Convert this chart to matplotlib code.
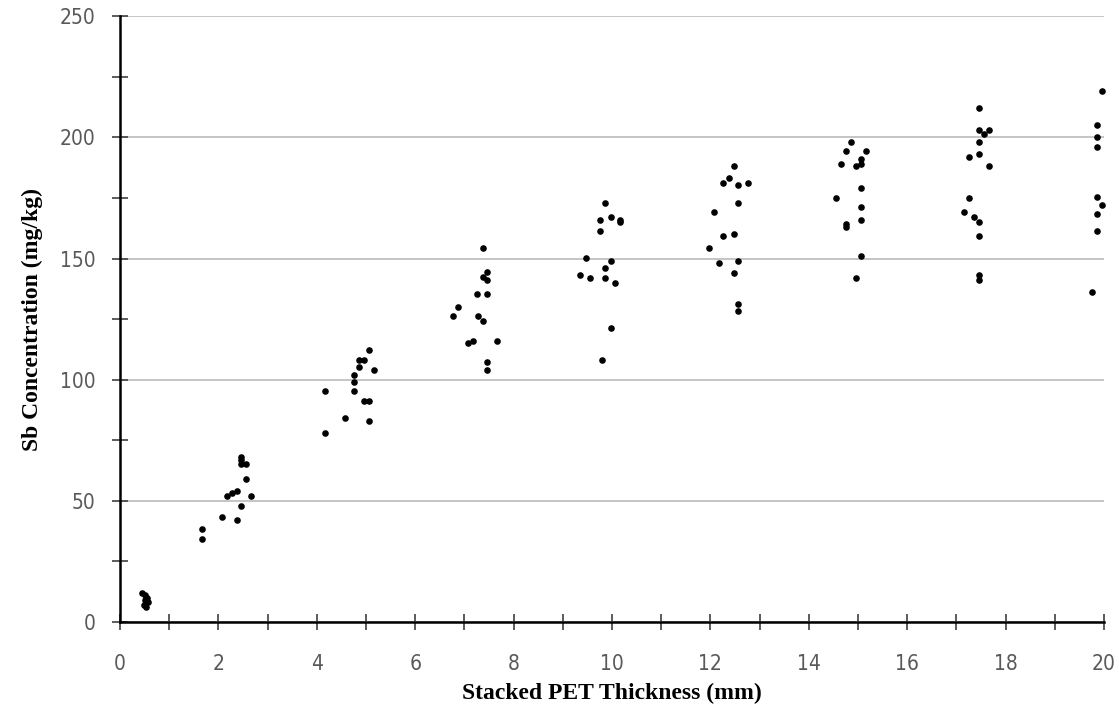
import matplotlib.pyplot as plt
from matplotlib.ticker import MultipleLocator

# values, grouped by thickness cluster
x_05 = [0.45, 0.50, 0.55, 0.50, 0.58, 0.48, 0.52]
y_05 = [12, 11, 10, 9, 8, 7, 6]

x_2 = [2.47, 2.47, 2.47, 2.57, 2.57, 2.17, 2.27, 2.37, 2.66, 2.47, 2.07, 2.37, 1.67, 1.67]
y_2 = [67.9, 66.6, 65.2, 65.2, 59, 52.1, 53.1, 53.9, 52.1, 48, 43.2, 42.1, 38.1, 34.1]

x_5 = [5.07, 4.86, 4.97, 4.86, 5.17, 4.76, 4.76, 4.17, 4.76, 4.97, 5.07, 4.57, 5.07, 4.17]
y_5 = [112.2, 108.1, 108.1, 105.1, 104.1, 102, 99, 95.2, 95.2, 91.2, 91.2, 84.2, 83.0, 78]

x_75 = [7.37, 7.47, 7.37, 7.47, 7.26, 7.47, 6.88, 6.76, 7.27, 7.37, 7.17, 7.07, 7.66, 7.47, 7.47]
y_75 = [154.2, 144.3, 142.2, 141.1, 135.3, 135.3, 130.1, 126.1, 126.1, 124, 116.1, 115.1, 116.1, 107.1, 104.1]

x_10 = [9.86, 9.76, 9.97, 10.16, 10.16, 9.76, 9.47, 9.97, 9.86, 9.36, 9.56, 9.86, 10.06, 9.97, 9.80]
y_10 = [173.1, 166, 167.2, 166, 165.2, 161.2, 150.2, 149, 146.2, 143.2, 142.1, 142.1, 140.1, 121.2, 108]

x_125 = [12.47, 12.37, 12.26, 12.56, 12.76, 12.56, 12.07, 12.47, 12.26, 11.97, 12.17, 12.56, 12.47, 12.56, 12.56]
y_125 = [188.2, 183.2, 181.1, 180.3, 181.1, 173.1, 169.1, 160.2, 159.1, 154.2, 148.1, 149, 144.1, 131.2, 128.2]

x_15 = [14.86, 14.76, 15.16, 15.06, 14.66, 15.06, 14.96, 15.06, 14.56, 15.06, 15.06, 14.76, 14.76, 15.06, 14.96]
y_15 = [198.2, 194.3, 194.3, 191.3, 189.2, 189.2, 188.2, 179, 175.2, 171.1, 166.1, 164.1, 163.1, 151.1, 142.1]

x_175 = [17.46, 17.46, 17.66, 17.56, 17.46, 17.26, 17.46, 17.66, 17.26, 17.16, 17.36, 17.46, 17.46, 17.46, 17.46]
y_175 = [212.2, 203.2, 203.2, 201.3, 198.2, 192.1, 193.2, 188.1, 175.2, 169.1, 167.2, 165.2, 159.1, 143.3, 141.2]

x_20 = [19.96, 19.86, 19.86, 19.86, 19.86, 19.96, 19.86, 19.86, 19.76]
y_20 = [219, 205.3, 200.2, 196.2, 175.3, 172.2, 168.2, 161.2, 136.3]

xs = x_05 + x_2 + x_5 + x_75 + x_10 + x_125 + x_15 + x_175 + x_20
ys = y_05 + y_2 + y_5 + y_75 + y_10 + y_125 + y_15 + y_175 + y_20

fig = plt.figure(figsize=(11.19, 7.13), dpi=100)
ax = fig.add_axes([0.1072, 0.128, 0.8794, 0.849])

ax.scatter(xs, ys, s=14, color='black', zorder=3, clip_on=False)

ax.set_xlim(0, 20)
ax.set_ylim(0, 250)
ax.xaxis.set_major_locator(MultipleLocator(2))
ax.xaxis.set_minor_locator(MultipleLocator(1))
ax.yaxis.set_major_locator(MultipleLocator(50))
ax.yaxis.set_minor_locator(MultipleLocator(25))

ax.grid(axis='y', which='major', color='#c0c0c0', linewidth=1.3, zorder=0)
ax.set_axisbelow(True)

for side in ['top', 'right']:
    ax.spines[side].set_visible(False)
for side in ['left', 'bottom']:
    ax.spines[side].set_linewidth(1.8)
    ax.spines[side].set_color('black')

ax.tick_params(which='both', direction='inout', length=11, width=1.2, color='#404040')
ax.tick_params(axis='both', which='major', labelsize=15, labelcolor='#595959')
ax.tick_params(axis='x', pad=18)
ax.tick_params(axis='y', pad=12)

for lab in ax.get_xticklabels() + ax.get_yticklabels():
    lab.set_fontfamily(['DejaVu Sans'])
    lab.set_fontstretch('condensed')
    lab.set_fontweight('light')

ax.set_xlabel('Stacked PET Thickness (mm)', fontsize=17, fontweight='bold',
              family='Liberation Serif', labelpad=6)
ax.set_ylabel('Sb Concentration (mg/kg)', fontsize=17, fontweight='bold',
              family='Liberation Serif', labelpad=12)

fig.savefig('out.png', dpi=100)
